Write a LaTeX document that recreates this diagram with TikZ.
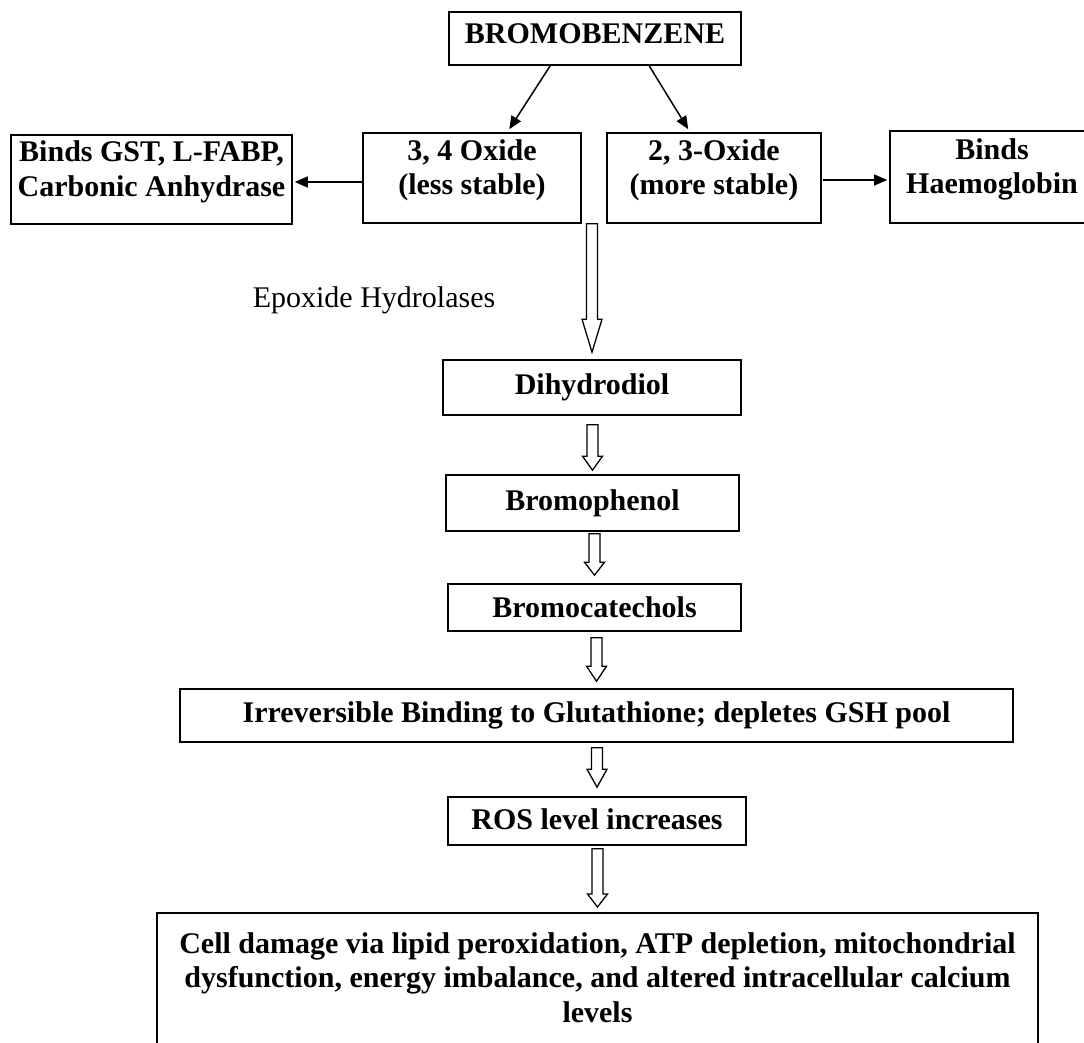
\documentclass[tikz,border=0pt]{standalone}
\usepackage{fontspec}
\setmainfont{Liberation Serif}
\usetikzlibrary{calc,arrows.meta}
\newcommand\tbox[6]{%
  \node[boxst, minimum width=#3, minimum height=#4] (#1) at (#2) {};
  \node[txt] (#1-t) at ($(#1.center)+(0,#5)$) {#6};}
\newcommand\blockarrow[5]{%
  \draw[blockarr] let \p1=(#1.south), \p2=(#2.north) in
    (\x2-5.5pt,\y1-#3pt) -- (\x2-5.5pt,\y2+#4pt+#5pt) -- (\x2-10pt,\y2+#4pt+#5pt)
    -- (\x2,\y2+#4pt) -- (\x2+10pt,\y2+#4pt+#5pt) -- (\x2+5.5pt,\y2+#4pt+#5pt)
    -- (\x2+5.5pt,\y1-#3pt) -- cycle;}
\begin{document}
\begin{tikzpicture}[x=1pt,y=-1pt,
  boxst/.style={draw=black, line width=1.6pt, inner sep=0pt},
  txt/.style={font=\fontsize{30}{34.5}\selectfont\bfseries, align=center, inner sep=0pt},
  plain/.style={font=\fontsize{30}{34.5}\selectfont, inner sep=0pt},
  thinarr/.style={line width=1.5pt, -{Triangle[length=13pt,width=11pt]}},
  blockarr/.style={draw=black, line width=1.3pt, fill=white, line join=miter}]
\useasboundingbox (0,0) rectangle (1084,1042);

\tbox{bromo}{595,38.5}{292}{53}{-5}{BROMOBENZENE}
\tbox{gst}{151.5,179.5}{281}{89}{-7.5}{Binds GST, L-FABP,\\Carbonic Anhydrase}
\tbox{ox34}{472,178}{218}{90}{-7.5}{3, 4 Oxide\\(less stable)}
\tbox{ox23}{714,178}{214}{90}{-7.5}{2, 3-Oxide\\(more stable)}
\tbox{haem}{992,177}{204}{92}{-7.5}{Binds\\Haemoglobin}

\node[plain] (epox) at (374,300) {Epoxide Hydrolases};

\tbox{dihy}{592,387.5}{298}{55}{0}{Dihydrodiol}
\tbox{brph}{592.5,503}{293}{56}{0}{Bromophenol}
\tbox{brca}{594.5,607.5}{293}{47}{0}{Bromocatechols}
\tbox{irr}{596.5,715.5}{833}{53}{0}{Irreversible Binding to Glutathione; depletes GSH pool}
\tbox{ros}{597,821}{298}{48}{-2}{ROS level increases}

\node[boxst, minimum width=881, minimum height=150, anchor=north] (final) at (597.5,912) {};
\node[txt] (final-t) at (597.5,977.5) {Cell damage via lipid peroxidation, ATP depletion, mitochondrial\\dysfunction, energy imbalance, and altered intracellular calcium\\levels};

% thin arrows
\draw[thinarr] ($(bromo.south west)+(102,0)$) -- ($(ox34.north west)+(147,-3)$);
\draw[thinarr] ($(bromo.south west)+(201,0)$) -- ($(ox23.north west)+(82,-3)$);
\draw[thinarr] ($(ox34.west)+(0,4)$) -- ($(gst.east)+(2,2.5)$);
\draw[thinarr] ($(ox23.east)+(1,2)$) -- ($(haem.west)+(-2,3)$);

% block arrows
\blockarrow{ox34}{dihy}{0}{7}{33}
\blockarrow{dihy}{brph}{9}{4}{14}
\blockarrow{brph}{brca}{2}{8}{13}
\blockarrow{brca}{irr}{6}{7}{15}
\blockarrow{irr}{ros}{5}{9}{18}
\blockarrow{ros}{final}{3}{5}{13}
\end{tikzpicture}
\end{document}
